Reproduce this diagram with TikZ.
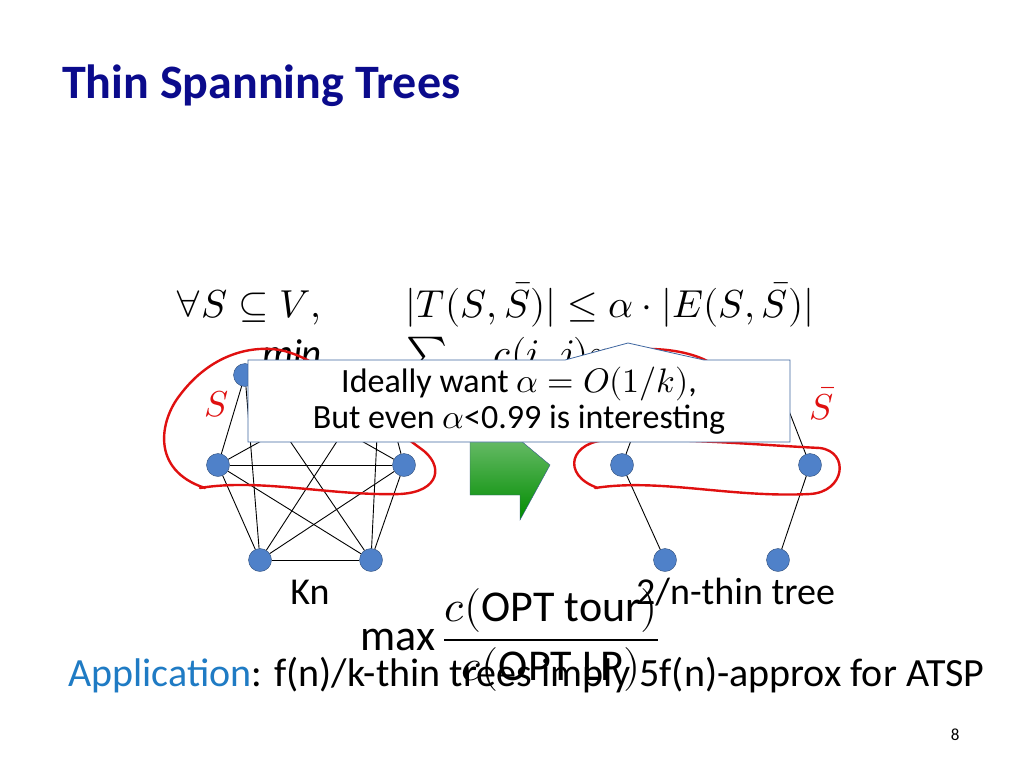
\documentclass[tikz,border=0pt]{standalone}
\usepackage{amsmath}
\usepackage{unicode-math}
\setmainfont{Carlito}
\setmathfont{Latin Modern Math}
\definecolor{slTitle}{HTML}{0B0B8C}
\definecolor{slNode}{HTML}{4F81C9}
\definecolor{slLink}{HTML}{1F7BC4}
\definecolor{slRed}{HTML}{E01010}
\usetikzlibrary{calc,positioning,arrows.meta,shapes.geometric}

\begin{document}
\begin{tikzpicture}[x=1pt,y=-1pt,
  vtx/.style={circle, fill=slNode, draw=slNode!60!black, minimum size=23pt, inner sep=0pt},
  edge/.style={black, line width=0.9pt},
  cut/.style={slRed, line width=2.4pt, line cap=round, line join=round},
  big/.style={font=\fontsize{44}{50}\selectfont, inner sep=0pt},
  txt/.style={font=\fontsize{38}{44}\selectfont, inner sep=0pt}
]
  \useasboundingbox (0,0) rectangle (1024,768);
  \fill[white] (0,0) rectangle (1024,768);

  \node[anchor=west, inner sep=0pt, text=slTitle, font=\fontsize{48}{54}\selectfont\bfseries] (title) at (62,86) {Thin Spanning Trees};

  \node[big, anchor=west, font=\fontsize{39}{44}\selectfont] (cond) at (175,305) {$\forall S\subseteq V,\qquad |T(S,\bar S)|\le\alpha\cdot|E(S,\bar S)|$};
  \node[big, anchor=west, font=\fontsize{39}{44}\selectfont] (lp) at (262,357) {$\mathit{min}\qquad\sum\quad c(i,j)x$};

  % left graph
  \node[vtx] (a1) at (245,375) {};
  \node[vtx] (a2) at (380,375) {};
  \node[vtx] (a3) at (218,465) {};
  \node[vtx] (a4) at (404,465) {};
  \node[vtx] (a5) at (260,560) {};
  \node[vtx] (a6) at (371,560) {};
  \foreach \u/\v in {a1/a2,a1/a3,a1/a4,a1/a5,a1/a6,a2/a3,a2/a4,a2/a5,a2/a6,a3/a4,a3/a5,a3/a6,a4/a5,a4/a6,a5/a6}
    \draw[edge] (\u) -- (\v);
  \node[txt] (kn) at (310,592) {Kn};

  % right tree
  \node[vtx] (b1) at (655,375) {};
  \node[vtx] (b2) at (775,375) {};
  \node[vtx] (b3) at (622,465) {};
  \node[vtx] (b4) at (810,465) {};
  \node[vtx] (b5) at (665,560) {};
  \node[vtx] (b6) at (778,560) {};
  \foreach \u/\v in {b1/b2,b1/b3,b3/b5,b2/b4,b4/b6}
    \draw[edge] (\u) -- (\v);
  \node[txt, anchor=west] (tree) at (636,592) {2/n-thin tree};

  % cut curves
  \draw[cut] (205,488) .. controls (150,470) and (160,420) .. (180,395)
    .. controls (210,355) and (250,345) .. (280,350)
    .. controls (330,360) and (380,420) .. (420,448)
    .. controls (445,465) and (440,492) .. (400,494)
    .. controls (330,496) and (260,478) .. (200,488);
  \draw[cut] (598,488) .. controls (560,475) and (570,440) .. (610,440)
    .. controls (680,438) and (760,445) .. (820,448)
    .. controls (850,452) and (845,492) .. (810,494)
    .. controls (730,498) and (660,478) .. (595,488);
  \draw[cut] (620,352) .. controls (650,345) and (700,350) .. (720,370);
  \node[text=slRed, font=\fontsize{36}{40}\selectfont] (sl) at (217,404) {$S$};
  \node[text=slRed, font=\fontsize{36}{40}\selectfont] (sr) at (822,404) {$\bar S$};

  % green block arrow
  \shade[top color=green!55!black!60, bottom color=green!55!black, draw=slNode!70!black]
    (470,440) -- (520,440) -- (550,465) -- (520,520) -- (520,495) -- (470,495) -- cycle;

  % callout
  \draw[slNode!80!black, fill=white, line width=0.8pt]
    (248,360) -- (565,360) -- (628,343) -- (704,360) -- (790,360) -- (790,442) -- (248,442) -- cycle;
  \node[align=center, font=\fontsize{34}{36}\selectfont] (note) at (519,401)
    {Ideally want $\alpha=O(1/k)$,\\But even $\alpha$<0.99 is interesting};

  % bottom
  \node[big, anchor=west] (ratio) at (360,640) {$\displaystyle \max\frac{c(\mathrm{OPT\ tour})}{c(\mathrm{OPT\ LP})}$};
  \node[txt, anchor=west, font=\fontsize{40}{44}\selectfont] (app) at (68,675)
    {\textcolor{slLink}{Application}: f(n)/k-thin trees imply 5f(n)-approx for ATSP};
  \node[anchor=east, font=\fontsize{17}{19}\selectfont] (pg) at (963,735) {8};
\end{tikzpicture}
\end{document}
